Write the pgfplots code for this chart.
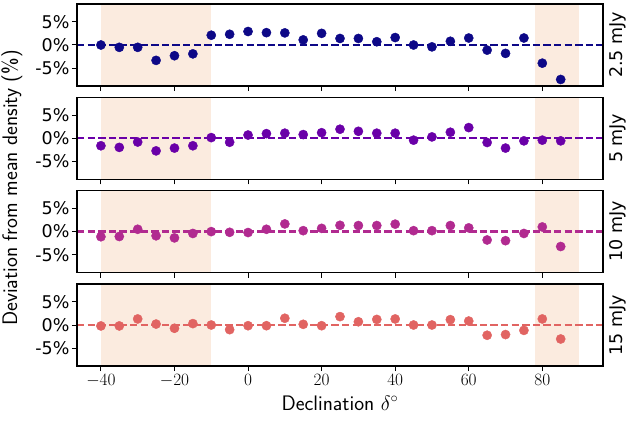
\documentclass[border=0pt]{standalone}
\usepackage{fontspec}
\usepackage{pgfplots}
\usepackage{pgfplotstable}
\pgfplotsset{compat=1.18}
\newfontfamily\dejavu{DejaVu Sans}
\definecolor{cA}{HTML}{0D0887}
\definecolor{cB}{HTML}{6A00A8}
\definecolor{cC}{HTML}{B12A90}
\definecolor{cD}{HTML}{E16462}
\definecolor{shade}{HTML}{FBEBDF}

\pgfplotstableread{
dec a b c d
-40 0.0 -1.6 -1.1 -0.2
-35 -0.5 -1.95 -1.05 -0.2
-30 -0.5 -0.8 0.5 1.3
-25 -3.3 -2.7 -0.9 0.2
-20 -2.3 -2.1 -1.35 -0.7
-15 -1.9 -1.6 -0.4 0.3
-10 2.1 0.15 0.0 0.0
-5 2.3 -0.85 -0.15 -1.0
0 2.9 0.7 -0.2 -0.15
5 2.65 1.0 0.5 -0.15
10 2.6 1.1 1.65 1.45
15 1.1 0.8 0.2 0.15
20 2.5 1.2 0.7 -0.15
25 1.4 1.95 1.35 1.8
30 1.4 1.5 1.3 0.7
35 0.7 1.1 1.3 1.2
40 1.6 1.1 1.6 1.3
45 0.0 -0.4 0.2 0.0
50 -0.4 0.3 0.2 0.0
55 0.8 1.3 1.3 1.15
60 1.5 2.3 0.8 0.85
65 -1.1 -0.9 -1.8 -2.2
70 -1.8 -2.1 -1.95 -2.05
75 1.5 -0.55 -0.4 -1.15
80 -3.9 -0.4 1.0 1.3
85 -7.4 -0.55 -3.2 -3.0
}\data

\pgfplotsset{
  panel/.style={
    scale only axis, width=526pt, height=82pt,
    xmin=-46.5, xmax=96.5, ymin=-8.8, ymax=8.8,
    ytick={-5,0,5}, yticklabels={-5\%,0\%,5\%},
    yticklabel style={font=\dejavu\fontsize{17.5}{19}\selectfont, xshift=1pt},
    xtick={-40,-20,...,80},
    tick align=outside, xtick pos=bottom, ytick pos=left,
    major tick length=5pt,
    axis line style={line width=1.2pt},
    every tick/.style={line width=1pt, black},
    axis on top, anchor=north west,
  },
}
\newcommand{\shades}{%
  \addplot[fill=shade, draw=none] coordinates {(-40,-20) (-10,-20) (-10,20) (-40,20)} -- cycle;
  \addplot[fill=shade, draw=none] coordinates {(78,-20) (90,-20) (90,20) (78,20)} -- cycle;
}
\newcommand{\rlab}[2]{\node[rotate=90, anchor=north, font=\dejavu\fontsize{17.5}{19}\selectfont] at ([xshift=3pt]#1.east) {#2};}

\begin{document}
\begin{tikzpicture}
\path[use as bounding box] (0,0) rectangle (628pt,-420pt);

\begin{axis}[panel, name=p1, at={(77pt,-4pt)}, xticklabels={}]
\shades
\addplot[cA, line width=2.3pt, dash pattern=on 7.4pt off 3.2pt] coordinates {(-46.5,0) (96.5,0)};
\addplot[cA, only marks, mark=*, mark size=4.6pt] table[x=dec,y=a]{\data};
\end{axis}

\begin{axis}[panel, name=p2, at={(77pt,-97.3pt)}, xticklabels={}]
\shades
\addplot[cB, line width=2.3pt, dash pattern=on 7.4pt off 3.2pt] coordinates {(-46.5,0) (96.5,0)};
\addplot[cB, only marks, mark=*, mark size=4.6pt] table[x=dec,y=b]{\data};
\end{axis}

\begin{axis}[panel, name=p3, at={(77pt,-190.6pt)}, xticklabels={}]
\shades
\addplot[cC, line width=2.3pt, dash pattern=on 7.4pt off 3.2pt] coordinates {(-46.5,0) (96.5,0)};
\addplot[cC, only marks, mark=*, mark size=4.6pt] table[x=dec,y=c]{\data};
\end{axis}

\begin{axis}[panel, name=p4, at={(77pt,-284pt)},
  xticklabel style={font=\fontsize{17}{18}\selectfont},
  xlabel={\sffamily\fontsize{21}{23}\selectfont Declination $\delta^\circ$},
  xlabel style={yshift=-1.5pt}]
\shades
\addplot[cD, line width=2.3pt, dash pattern=on 7.4pt off 3.2pt] coordinates {(-46.5,0) (96.5,0)};
\addplot[cD, only marks, mark=*, mark size=4.6pt] table[x=dec,y=d]{\data};
\end{axis}

\rlab{p1}{2.5 mJy}
\rlab{p2}{5 mJy}
\rlab{p3}{10 mJy}
\rlab{p4}{15 mJy}

\node[rotate=90, font=\sffamily\fontsize{21}{23}\selectfont] at (12pt,-188pt) {Deviation from mean density (\%)};
\end{tikzpicture}
\end{document}
